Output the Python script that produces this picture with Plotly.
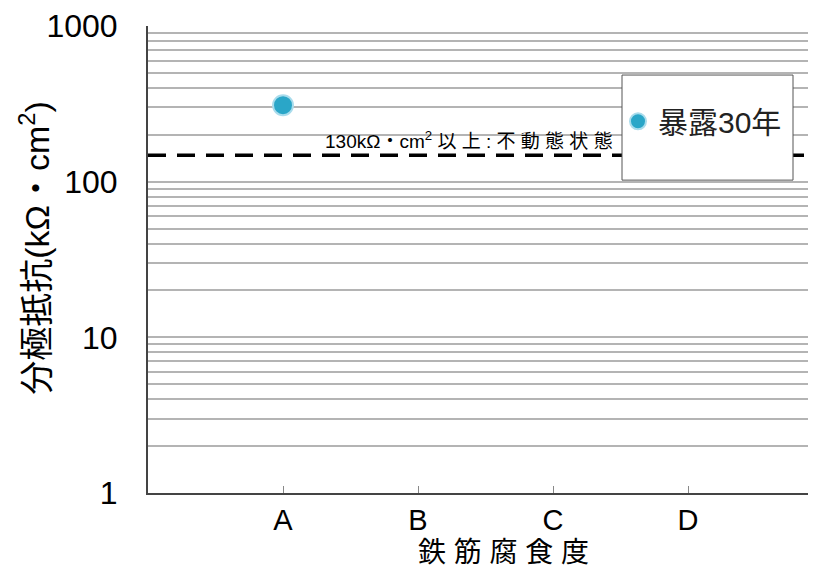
import math
import plotly.graph_objects as go

categories = ["A", "B", "C", "D"]
series_name = "暴露30年"
series_x = ["A"]
series_y = [310]
threshold_value = 148
threshold_label = "130kΩ・cm<sup>2</sup> 以 上 : 不 動 態 状 態"
y_major = [1, 10, 100, 1000]
x_title = "鉄 筋 腐 食 度"
y_title = "分極抵抗(kΩ・cm<sup>2</sup>)"

xpos = {c: i for i, c in enumerate(categories)}
tickvals, ticktext = [], []
for d in y_major[:-1]:
    for m in range(1, 10):
        tickvals.append(d * m)
        ticktext.append(str(d) if m == 1 else "")
tickvals.append(y_major[-1])
ticktext.append(str(y_major[-1]))

FONT = "Liberation Sans, Noto Sans CJK JP, sans-serif"
X_MAX = 4.007

fig = go.Figure()
fig.add_trace(go.Scatter(
    x=[xpos[c] for c in series_x], y=series_y, mode="markers", name=series_name,
    marker=dict(size=20, color="#2aa6c8", line=dict(color="#a9dcec", width=2)),
))
fig.add_trace(go.Scatter(
    x=[-1, X_MAX], y=[threshold_value, threshold_value], mode="lines", showlegend=False,
    line=dict(color="black", width=3.5, dash="18px,11px"),
))
fig.add_annotation(x=2.46, y=math.log10(threshold_value), xref="x", yref="y",
                   text=threshold_label,
                   showarrow=False, yanchor="bottom", yshift=1, xanchor="right",
                   font=dict(family=FONT, size=19, color="black"))
# layout in pixel-based paper fractions (plot width 676, height 467)
PW = 676.0
fig.add_annotation(x=-113 / PW, y=0.525, xref="paper", yref="paper", text=y_title,
                   textangle=-90, showarrow=False, xanchor="center", yanchor="middle",
                   font=dict(family=FONT, size=34, color="black"))
fig.add_annotation(x=355 / PW, y=-0.128, xref="paper", yref="paper", text=x_title,
                   showarrow=False, xanchor="center", yanchor="middle",
                   font=dict(family=FONT, size=28, color="black"))
# legend box
fig.add_shape(type="rect", xref="paper", yref="paper", x0=474 / PW, x1=645 / PW,
              y0=0.67, y1=0.895,
              line=dict(color="#555", width=1), fillcolor="white", layer="above")

fig.update_layout(
    width=816, height=565,
    margin=dict(l=140, r=0, t=18, b=80, autoexpand=False),
    paper_bgcolor="white", plot_bgcolor="white",
    font=dict(family=FONT, color="black"),
    showlegend=True,
    legend=dict(x=470 / PW, y=0.796, xanchor="left", yanchor="middle",
                bgcolor="rgba(0,0,0,0)", borderwidth=0,
                font=dict(family=FONT, size=30, color="#222"),
                itemwidth=30),
    xaxis=dict(range=[-1, X_MAX], tickvals=list(range(len(categories))), ticktext=categories,
               showgrid=False, zeroline=False, showline=True, linecolor="#444", linewidth=2,
               ticks="inside", ticklen=7, tickcolor="#888", tickfont=dict(size=29),
               automargin=False),
    yaxis=dict(type="log", range=[0, 3], tickvals=tickvals, ticktext=ticktext,
               showgrid=True, gridcolor="#b4b4b4", gridwidth=1.5,
               zeroline=False, showline=True, linecolor="#444", linewidth=2,
               ticks="", tickfont=dict(size=32), ticklabelstandoff=22,
               automargin=False),
)
fig.write_html("out.html")
